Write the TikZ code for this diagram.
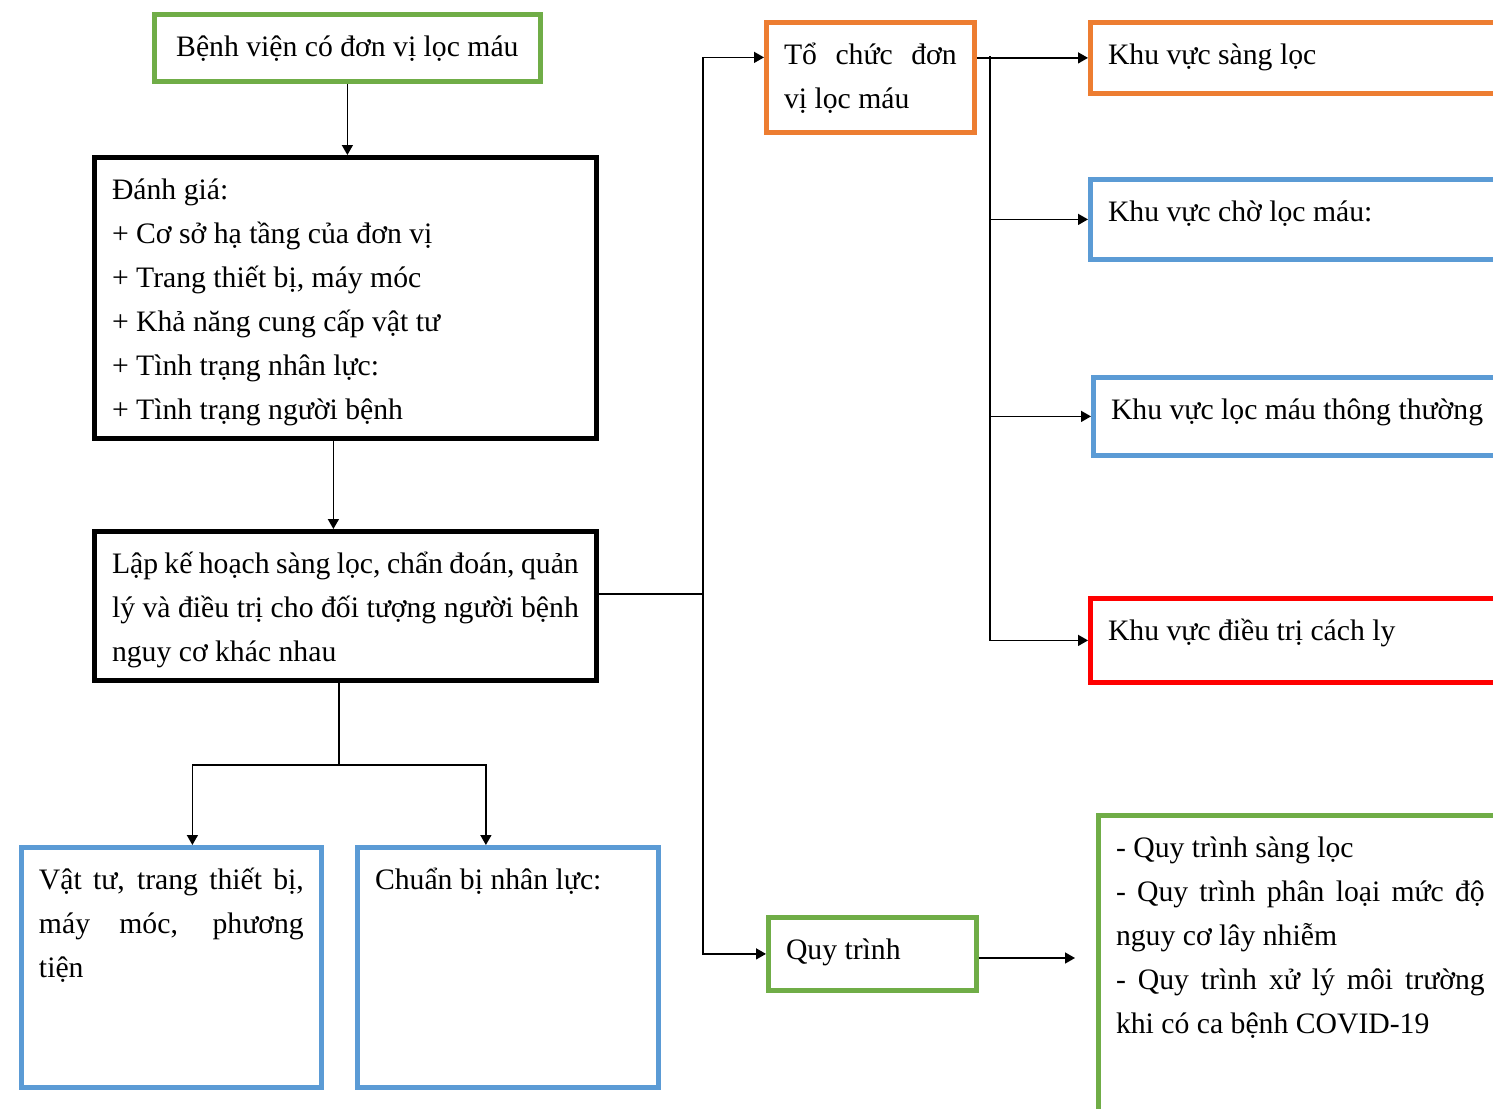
\documentclass[tikz,border=0pt]{standalone}
\usepackage{fontspec}
\setmainfont{Liberation Serif}
\usepackage{tikz}
\usetikzlibrary{calc,positioning,shadows,arrows.meta}

\definecolor{boxgreen}{HTML}{70AD47}
\definecolor{boxorange}{HTML}{ED7D31}
\definecolor{boxblue}{HTML}{5B9BD5}
\definecolor{boxred}{HTML}{FF0000}

\hyphenpenalty=10000
\exhyphenpenalty=10000

% text block of a box: width and height in px
\newcommand\boxtxt[3]{\parbox[c][\dimexpr 0.5pt*#2-11pt\relax][t]{\dimexpr 0.5pt*#1-17.6pt\relax}{\strut #3}}

\begin{document}
\begin{tikzpicture}[x=0.5pt, y=-0.5pt, line width=0.75pt, >={Triangle[length=5pt,width=5.5pt]},
  box/.style={draw, fill=white, line width=2.4pt, anchor=north west, inner xsep=8.8pt, inner ysep=5.5pt,
    font=\fontsize{14.85}{22}\selectfont}]
  \clip (0,0) rectangle (1493,1108);

  % Nodes
  \node (hosp)   [box, draw=boxgreen]  at (152,12)  {\boxtxt{386}{67}{\centering Bệnh viện có đơn vị lọc máu}};
  \node (eval)   [box, draw=black]     at (92,155)  {\boxtxt{502}{281}{Đánh giá:\\
    + Cơ sở hạ tầng của đơn vị\\
    + Trang thiết bị, máy móc\\
    + Khả năng cung cấp vật tư\\
    + Tình trạng nhân lực:\\
    + Tình trạng người bệnh}};
  \node (plan)   [box, draw=black]     at (92,529)  {\boxtxt{502}{149}{Lập kế hoạch sàng lọc, chẩn đoán, quản\linebreak
    lý và điều trị cho đối tượng người bệnh\linebreak nguy cơ khác nhau}};
  \node (supply) [box, draw=boxblue]   at (19,845)  {\boxtxt{300}{240}{Vật tư, trang thiết bị,\linebreak máy móc, phương\linebreak tiện}};
  \node (staff)  [box, draw=boxblue]   at (355,845) {\boxtxt{301}{240}{Chuẩn bị nhân lực:}};

  \node (org)    [box, draw=boxorange] at (764,20)  {\boxtxt{208}{110}{Tổ chức đơn\linebreak vị lọc máu}};
  \node (proc)   [box, draw=boxgreen]  at (766,915) {\boxtxt{208}{73}{Quy trình}};

  \node (screen) [box, draw=boxorange] at (1088,20)  {\boxtxt{420}{71}{Khu vực sàng lọc}};
  \node (wait)   [box, draw=boxblue]   at (1088,177) {\boxtxt{420}{80}{Khu vực chờ lọc máu:}};
  \node (normal) [box, draw=boxblue]   at (1091,375) {\boxtxt{420}{78}{Khu vực lọc máu thông thường}};
  \node (iso)    [box, draw=boxred, drop shadow={shadow xshift=0.5pt, shadow yshift=-1.5pt, opacity=.3}]
                                       at (1088,596) {\boxtxt{420}{84}{Khu vực điều trị cách ly}};
  \node (steps)  [box, draw=boxgreen]  at (1096,813) {\boxtxt{404}{320}{- Quy trình sàng lọc\\
    - Quy trình phân loại mức độ\linebreak nguy cơ lây nhiễm\\
    - Quy trình xử lý môi trường\linebreak khi có ca bệnh COVID-19}};

  \coordinate (split) at (339,765);
  \coordinate (trunk) at (703,594);
  \coordinate (bus)   at (990,56);
  \coordinate (stepsin) at (1075,958);

  % Edges
  \draw[->] (hosp.south) -- (hosp.south |- eval.north);
  \draw[->] ([xshift=-6pt]eval.south) -- ([xshift=-6pt]eval.south |- plan.north);
  \draw     (plan.south -| split) -- (split);
  \draw[->] (split) -| ([xshift=10.5pt]supply.north);
  \draw[->] (split) -| ([xshift=-11pt]staff.north);

  \draw     (plan.east |- trunk) -- (trunk);
  \draw[->] (trunk) |- ([yshift=10pt]org.west);
  \draw[->] (trunk) |- (proc.west);

  \draw[->] (org.east |- screen.west) -- (screen.west);
  \draw[->] (bus) |- (iso.west);
  \draw[->] (bus |- wait.west) -- (wait.west);
  \draw[->] (bus |- normal.west) -- (normal.west);

  \draw[->] (proc.east |- stepsin) -- (stepsin);

\end{tikzpicture}
\end{document}
